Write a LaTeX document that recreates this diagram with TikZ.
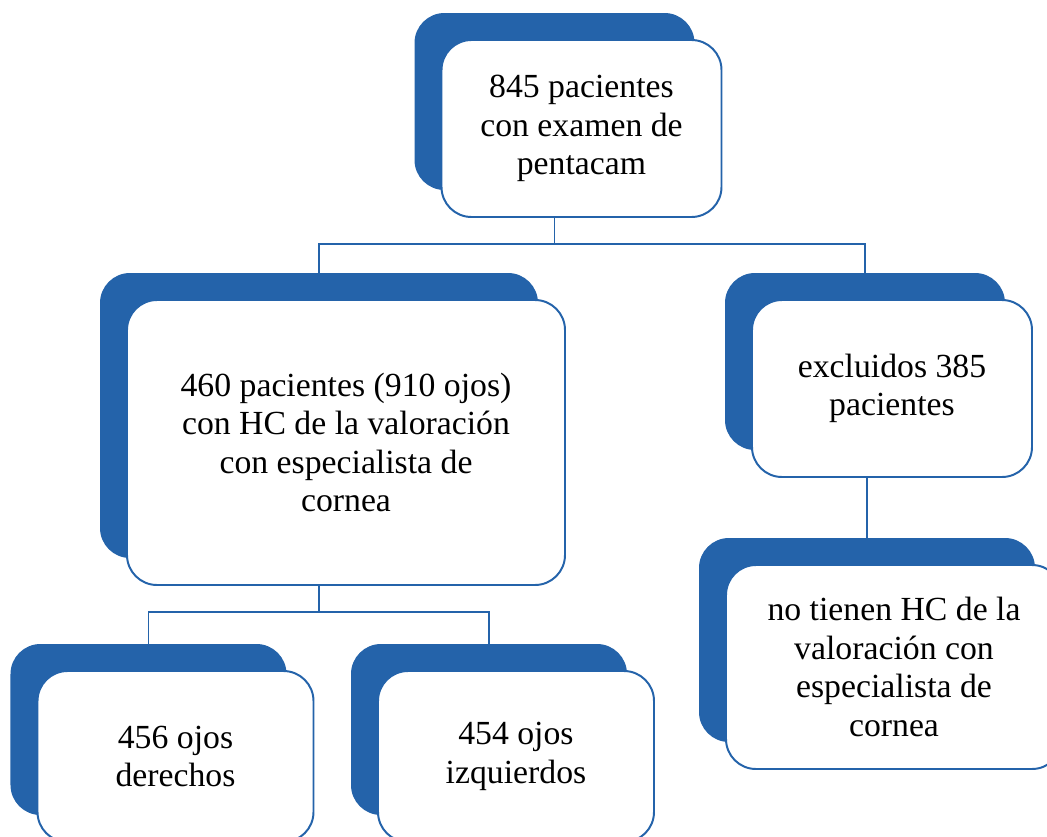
\documentclass[tikz,border=0pt]{standalone}
\usepackage{fontspec}
\setmainfont{Liberation Serif}
\usepackage{tikz}
\usetikzlibrary{positioning}
\definecolor{azulsa}{RGB}{36,99,170}

\begin{document}
\begin{tikzpicture}[
  every node/.style={font=\fontsize{24}{27.4}\selectfont},
  fondo/.style={fill=azulsa, draw=none, rounded corners=0.75cm, inner sep=0pt},
  caja/.style={draw=azulsa, line width=1.4pt, fill=white, rounded corners=0.75cm, inner sep=0pt, align=center},
  con/.style={draw=azulsa, line width=1.2pt}
]
  \clip (0,0) rectangle (26.175,-20.925);

  % back boxes
  \node[fondo, minimum width=7cm,    minimum height=4.425cm] (tot-b) at (13.8625,-2.5375)  {};
  \node[fondo, minimum width=10.95cm, minimum height=7.125cm] (pac-b) at (7.975,-10.3875)   {};
  \node[fondo, minimum width=7cm,    minimum height=4.425cm] (exc-b) at (21.625,-9.0375)   {};
  \node[fondo, minimum width=8.4cm,  minimum height=5.1cm]   (sin-b) at (21.675,-16.0)     {};
  \node[fondo, minimum width=6.9cm,  minimum height=4.275cm] (der-b) at (3.7125,-18.2375)  {};
  \node[fondo, minimum width=6.9cm,  minimum height=4.275cm] (izq-b) at (12.225,-18.2375)  {};

  % front boxes
  \node[caja, minimum width=7cm,    minimum height=4.425cm] (tot) at (14.5375,-3.2125)
    {845 pacientes\\con examen de\\pentacam};
  \node[caja, minimum width=10.95cm, minimum height=7.125cm] (pac) at (8.65,-11.0625)
    {460 pacientes (910 ojos)\\con HC de la valoración\\con especialista de\\cornea};
  \node[caja, minimum width=7cm,    minimum height=4.425cm] (exc) at (22.3,-9.7125)
    {excluidos 385\\pacientes};
  \node[caja, minimum width=8.4cm,  minimum height=5.1cm]   (sin) at (22.35,-16.675)
    {no tienen HC de la\\valoración con\\especialista de\\cornea};
  \node[caja, minimum width=6.9cm,  minimum height=4.275cm] (der) at (4.3875,-18.9125)
    {456 ojos\\derechos};
  \node[caja, minimum width=6.9cm,  minimum height=4.275cm] (izq) at (12.9,-18.9125)
    {454 ojos\\izquierdos};

  % connectors
  \foreach \h in {pac, exc}
    \draw[con] (tot-b.south |- tot.south) -- ++(0,-0.65) -| (\h-b.north);
  \foreach \h in {der, izq}
    \draw[con] (pac-b.south |- pac.south) -- ++(0,-0.65) -| (\h-b.north);
  \draw[con] (exc.south -| sin-b.north) -- (sin-b.north);
\end{tikzpicture}
\end{document}
